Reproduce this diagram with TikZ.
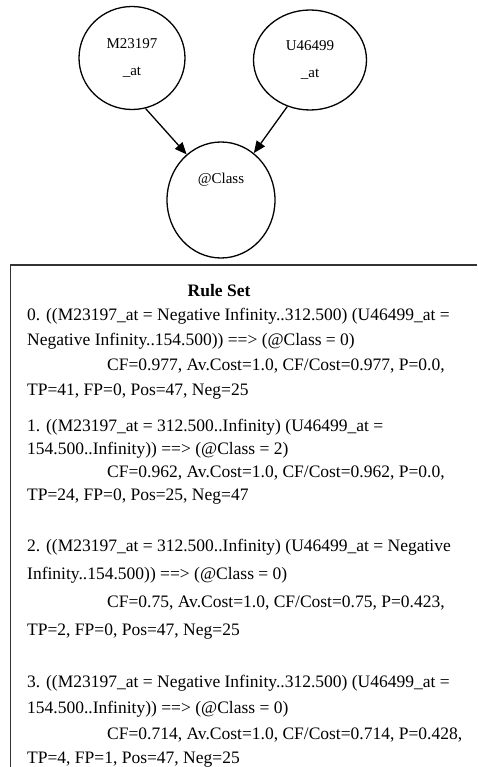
\documentclass[tikz,border=0pt]{standalone}
\usepackage{fontspec}
\setmainfont{Liberation Serif}
\usetikzlibrary{positioning}
\usetikzlibrary{arrows.meta}
\usetikzlibrary{shapes.geometric}

\tikzset{
	attr/.style={draw,ellipse,line width=1.3pt,inner sep=0pt,align=center,font=\fontsize{15}{27}\selectfont},
	ruleline/.style={anchor=base west,inner sep=0pt,font=\fontsize{17.5}{21}\selectfont},
	edge/.style={-{Triangle[length=12pt,width=10pt]},line width=1.3pt},
	frame/.style={line width=1.8pt,draw=black!80}
}

\begin{document}
\begin{tikzpicture}[x=1pt,y=-1pt]
		\useasboundingbox (0,0) rectangle (477,767);
		% network
		\node (m23197) [attr,minimum width=106pt,minimum height=103pt] at (132,58) {M23197\\\_at};
		\node (u46499) [attr,minimum width=113pt,minimum height=100pt] at (310,60) {U46499\\\_at};
		\node (klasse) [attr,minimum width=108pt,minimum height=116pt,label={[yshift=20pt,font=\fontsize{15}{18}\selectfont]center:@Class}] at (221,200) {};
		\draw [edge] (m23197.-75) -- (klasse.127);
		\draw [edge] (u46499.-116) -- (klasse.55);
		% rule set
		\draw [frame] (10.5,767) -- (10.5,265) -- (477,265);
		\node (ruleset) [anchor=base,inner sep=0pt,font=\fontsize{17.5}{21}\selectfont\bfseries] at (219,296) {Rule Set};
		\node (r0a) [ruleline] at (27,320) {0. ((M23197\_at = Negative Infinity..312.500) (U46499\_at =};
		\node (r0b) [ruleline] at (27,345) {Negative Infinity..154.500)) ==> (@Class = 0)};
		\node (r0c) [ruleline] at (107,370) {CF=0.977, Av.Cost=1.0, CF/Cost=0.977, P=0.0,};
		\node (r0d) [ruleline] at (27,395) {TP=41, FP=0, Pos=47, Neg=25};
		\node (r1a) [ruleline] at (27,431) {1. ((M23197\_at = 312.500..Infinity) (U46499\_at =};
		\node (r1b) [ruleline] at (27,454) {154.500..Infinity)) ==> (@Class = 2)};
		\node (r1c) [ruleline] at (107,477) {CF=0.962, Av.Cost=1.0, CF/Cost=0.962, P=0.0,};
		\node (r1d) [ruleline] at (27,500) {TP=24, FP=0, Pos=25, Neg=47};
		\node (r2a) [ruleline] at (27,551) {2. ((M23197\_at = 312.500..Infinity) (U46499\_at = Negative};
		\node (r2b) [ruleline] at (27,579) {Infinity..154.500)) ==> (@Class = 0)};
		\node (r2c) [ruleline] at (107,607) {CF=0.75, Av.Cost=1.0, CF/Cost=0.75, P=0.423,};
		\node (r2d) [ruleline] at (27,635) {TP=2, FP=0, Pos=47, Neg=25};
		\node (r3a) [ruleline] at (27,687) {3. ((M23197\_at = Negative Infinity..312.500) (U46499\_at =};
		\node (r3b) [ruleline] at (27,713) {154.500..Infinity)) ==> (@Class = 0)};
		\node (r3c) [ruleline] at (107,739) {CF=0.714, Av.Cost=1.0, CF/Cost=0.714, P=0.428,};
		\node (r3d) [ruleline] at (27,763) {TP=4, FP=1, Pos=47, Neg=25};
	\end{tikzpicture}
\end{document}
